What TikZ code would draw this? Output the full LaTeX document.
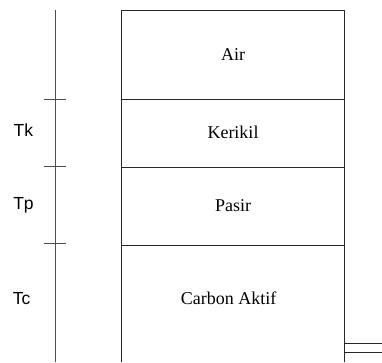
\documentclass[tikz,border=0pt]{standalone}
\usepackage{fontspec}
\setmainfont{Liberation Serif}
\setsansfont{Liberation Sans}
\begin{document}
\begin{tikzpicture}[x=1pt,y=1pt,
  axisline/.style={line width=0.9pt,draw=black!70},
  boxline/.style={line width=0.9pt,draw=black!85},
  layerlabel/.style={font=\fontsize{18}{20}\selectfont\rmfamily,anchor=base,inner sep=0pt},
  sidelabel/.style={font=\fontsize{17.5}{20}\selectfont\sffamily,anchor=base,inner sep=0pt}]
\useasboundingbox (0,0) rectangle (382,-362);
% axis
\coordinate (at) at (55,-10);
\coordinate (ab) at (55,-362);
\draw[axisline] (at) -- (ab);
\foreach \y/\n in {99/t1,166/t2,243/t3}{
  \coordinate (\n l) at (44,-\y);
  \coordinate (\n r) at (66,-\y);
  \draw[axisline] (\n l) -- (\n r);
}
% box
\coordinate (bl) at (121,-362);
\coordinate (tl) at (121,-10);
\coordinate (tr) at (344,-10);
\coordinate (br) at (344,-362);
\draw[boxline] (bl) -- (tl) -- (tr) -- (br);
\foreach \y/\n in {99/h1,167/h2,245/h3}{
  \coordinate (\n l) at (121,-\y);
  \coordinate (\n r) at (344,-\y);
  \draw[boxline] (\n l) -- (\n r);
}
% outlet pipe
\coordinate (p1l) at (344,-343);
\coordinate (p1r) at (382,-343);
\coordinate (p2l) at (344,-352);
\coordinate (p2r) at (382,-352);
\draw[boxline] (p1l) -- (p1r);
\draw[boxline] (p2l) -- (p2r);
% layer labels
\node[layerlabel] (air) at (233,-60) {Air};
\node[layerlabel] (kerikil) at (233,-138.3) {Kerikil};
\node[layerlabel] (pasir) at (233,-211) {Pasir};
\node[layerlabel] (carbon) at (228.5,-304) {Carbon Aktif};
% side labels
\node[sidelabel] (tk) at (23.3,-136.7) {Tk};
\node[sidelabel] (tp) at (23.5,-209.3) {Tp};
\node[sidelabel] (tc) at (21.7,-304) {Tc};
\end{tikzpicture}
\end{document}
